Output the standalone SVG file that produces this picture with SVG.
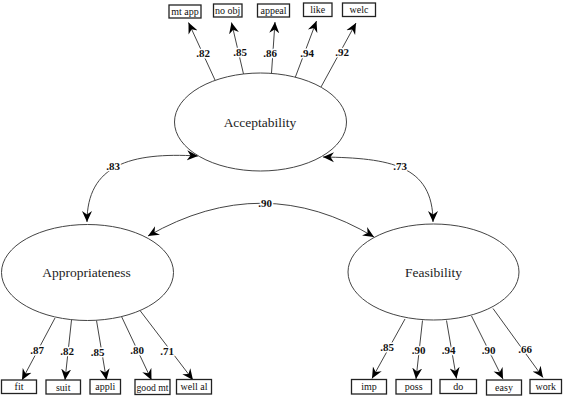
<svg xmlns="http://www.w3.org/2000/svg" width="567" height="401" viewBox="0 0 567 401">
<style>
.lat{fill:#fff;stroke:#444;stroke-width:1}
.latt{font-family:"Liberation Serif",serif;font-size:13.5px;fill:#222;text-anchor:middle}
.box{fill:#fff;stroke:#222;stroke-width:1.3}
.boxt{font-family:"Liberation Serif",serif;font-size:10px;fill:#111;text-anchor:middle}
.ln{fill:none;stroke:#444;stroke-width:1}
.num{font-family:"Liberation Serif",serif;font-size:11px;font-weight:bold;fill:#111;text-anchor:middle;stroke:#fff;stroke-width:3;paint-order:stroke;stroke-linejoin:round}
</style>
<defs>
<marker id="ah" markerUnits="userSpaceOnUse" markerWidth="12" markerHeight="12" viewBox="0 0 12 10" refX="11" refY="5" orient="auto-start-reverse">
<path d="M0,0 L11,5 L0,10 L3.5,5 Z" fill="#000"/>
</marker>
</defs>
<rect width="567" height="401" fill="#fff"/>
<g id="connectors">
<path class="ln" d="M198,156 C130,152 87,165 87,222" marker-start="url(#ah)" marker-end="url(#ah)"/>
<path class="ln" d="M323,157 C390,158 433,165 433,222" marker-start="url(#ah)" marker-end="url(#ah)"/>
<path class="ln" d="M148,236 Q263,170 374,237" marker-start="url(#ah)" marker-end="url(#ah)"/>
<line class="ln" x1="215" y1="80" x2="188.5" y2="22.5" marker-end="url(#ah)"/>
<line class="ln" x1="243.5" y1="74" x2="231.5" y2="22.5" marker-end="url(#ah)"/>
<line class="ln" x1="271.5" y1="73" x2="275" y2="22" marker-end="url(#ah)"/>
<line class="ln" x1="295" y1="78" x2="316.5" y2="21" marker-end="url(#ah)"/>
<line class="ln" x1="321" y1="87" x2="356" y2="23" marker-end="url(#ah)"/>
<line class="ln" x1="55" y1="318" x2="22" y2="380" marker-end="url(#ah)"/>
<line class="ln" x1="71.5" y1="320" x2="65" y2="380" marker-end="url(#ah)"/>
<line class="ln" x1="96.5" y1="320.5" x2="106.5" y2="380" marker-end="url(#ah)"/>
<line class="ln" x1="121.5" y1="316.5" x2="151.5" y2="380" marker-end="url(#ah)"/>
<line class="ln" x1="140" y1="310.5" x2="193" y2="380" marker-end="url(#ah)"/>
<line class="ln" x1="405" y1="319" x2="372" y2="378.5" marker-end="url(#ah)"/>
<line class="ln" x1="422.5" y1="320.5" x2="416" y2="379" marker-end="url(#ah)"/>
<line class="ln" x1="446.5" y1="320.5" x2="456.5" y2="378.5" marker-end="url(#ah)"/>
<line class="ln" x1="471.5" y1="316" x2="503" y2="379" marker-end="url(#ah)"/>
<line class="ln" x1="493" y1="308.5" x2="543" y2="377.5" marker-end="url(#ah)"/>
<text class="num" x="113" y="170">.83</text>
<text class="num" x="400" y="170">.73</text>
<text class="num" x="265" y="207">.90</text>
<text class="num" x="203" y="57">.82</text>
<text class="num" x="240" y="56">.85</text>
<text class="num" x="270" y="57">.86</text>
<text class="num" x="307" y="57">.94</text>
<text class="num" x="342" y="56">.92</text>
<text class="num" x="37" y="353.5">.87</text>
<text class="num" x="67" y="355">.82</text>
<text class="num" x="97.5" y="356">.85</text>
<text class="num" x="137" y="354">.80</text>
<text class="num" x="167" y="355">.71</text>
<text class="num" x="387" y="351">.85</text>
<text class="num" x="418.5" y="353.5">.90</text>
<text class="num" x="448.5" y="353.5">.94</text>
<text class="num" x="488.5" y="353.5">.90</text>
<text class="num" x="525" y="352.5">.66</text>
</g>
<g id="acceptability">
<ellipse class="lat" cx="260.5" cy="122" rx="86" ry="49"/>
<text class="latt" x="260" y="127">Acceptability</text>
</g>
<g id="appropriateness">
<ellipse class="lat" cx="87.5" cy="272.5" rx="86" ry="48"/>
<text class="latt" x="86.5" y="277">Appropriateness</text>
</g>
<g id="feasibility">
<ellipse class="lat" cx="433.5" cy="272" rx="85.5" ry="48"/>
<text class="latt" x="433.5" y="277">Feasibility</text>
</g>
<g id="mtapp"><rect class="box" x="169" y="5" width="32" height="13"/><text class="boxt" x="185" y="14.8">mt app</text></g>
<g id="noobj"><rect class="box" x="213.5" y="4" width="28.5" height="13"/><text class="boxt" x="227.7" y="13.8">no obj</text></g>
<g id="appeal"><rect class="box" x="257.5" y="4" width="32" height="13"/><text class="boxt" x="273.5" y="13.8">appeal</text></g>
<g id="like"><rect class="box" x="303.5" y="3" width="28.5" height="13.5"/><text class="boxt" x="317.7" y="13">like</text></g>
<g id="welc"><rect class="box" x="342.5" y="3" width="33" height="13.5"/><text class="boxt" x="359" y="13">welc</text></g>
<g id="fit"><rect class="box" x="1.5" y="380" width="35" height="13.5"/><text class="boxt" x="19" y="390.2">fit</text></g>
<g id="suit"><rect class="box" x="46" y="380" width="34.5" height="14"/><text class="boxt" x="63.2" y="390.5">suit</text></g>
<g id="appli"><rect class="box" x="90" y="379.5" width="30.5" height="14.5"/><text class="boxt" x="105.2" y="390">appli</text></g>
<g id="goodmt"><rect class="box" x="135" y="379.5" width="35" height="15"/><text class="boxt" x="152.5" y="390.5" textLength="32" lengthAdjust="spacingAndGlyphs">good mt</text></g>
<g id="wellal"><rect class="box" x="176.5" y="379.5" width="35" height="14.5"/><text class="boxt" x="194" y="390">well al</text></g>
<g id="imp"><rect class="box" x="351.5" y="379.5" width="35" height="14.5"/><text class="boxt" x="369" y="390">imp</text></g>
<g id="poss"><rect class="box" x="396" y="379.5" width="35.5" height="14.5"/><text class="boxt" x="413.7" y="390">poss</text></g>
<g id="do"><rect class="box" x="440" y="379.5" width="36.5" height="14"/><text class="boxt" x="458.2" y="390">do</text></g>
<g id="easy"><rect class="box" x="486.5" y="380" width="35" height="15"/><text class="boxt" x="504" y="391">easy</text></g>
<g id="work"><rect class="box" x="530" y="379.5" width="31.5" height="14"/><text class="boxt" x="545.7" y="389.5">work</text></g>
</svg>
